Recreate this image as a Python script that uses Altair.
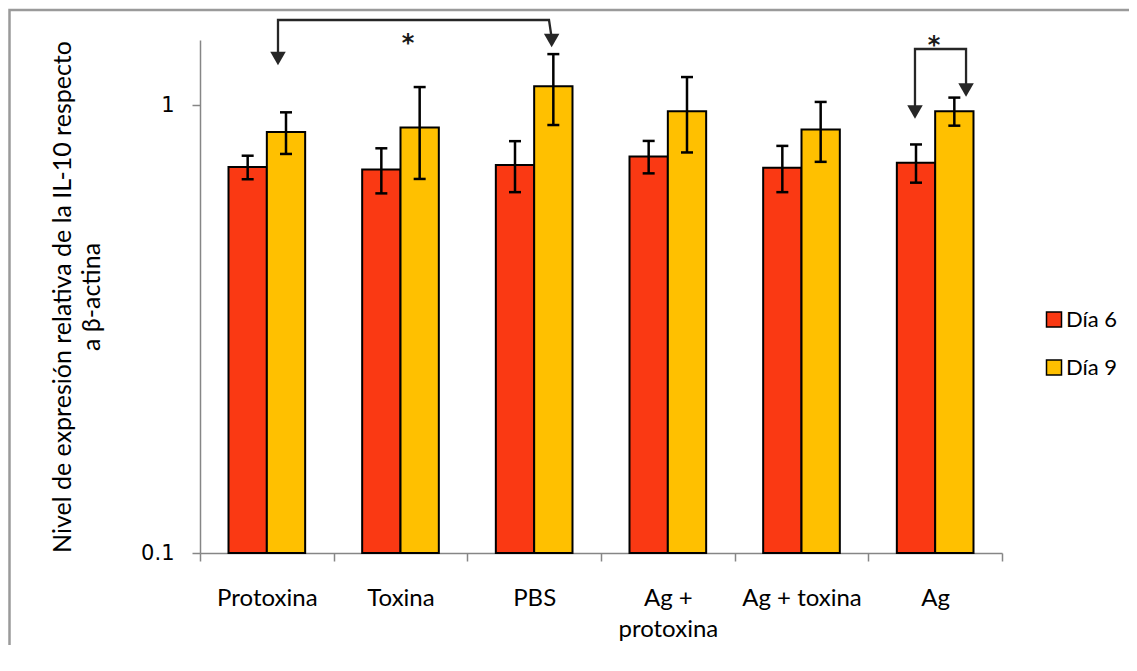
import altair as alt
import pandas as pd

# ---------------- data ----------------
categories = ["Protoxina", "Toxina", "PBS", "Ag + protoxina", "Ag + toxina", "Ag"]
series = ["Día 6", "Día 9"]
dia6 = [0.728, 0.719, 0.736, 0.769, 0.726, 0.745]
dia9 = [0.872, 0.892, 1.103, 0.971, 0.883, 0.971]
err6 = [0.044, 0.083, 0.096, 0.064, 0.086, 0.073]
err9 = [0.093, 0.207, 0.199, 0.186, 0.135, 0.070]
colors = ["#FA3913", "#FFC000"]
axis_floor = 0.1

# significance annotations (x in category units 0..6, y in data units)
bracket_id = ["A", "A", "A", "A", "B", "B", "B", "B"]
bracket_ord = [0, 1, 2, 3, 0, 1, 2, 3]
bracket_u = [0.5835, 0.5835, 2.611, 2.631, 5.349, 5.349, 5.731, 5.731]
bracket_v = [1.296, 1.5516, 1.5516, 1.4145, 0.987, 1.3367, 1.3367, 1.1052]
arrow_u = [0.5835, 2.631, 5.349, 5.731]
arrow_v = [1.273, 1.3964, 0.9668, 1.0826]
star_u = [1.556, 5.491]
star_v = [1.4072, 1.3928]
star_txt = ["*", "*"]

rows = []
for i, c in enumerate(categories):
    for s, vals, errs in ((series[0], dia6, err6), (series[1], dia9, err9)):
        rows.append({"cat": c, "series": s, "value": vals[i], "base": axis_floor,
                     "lo": vals[i] - errs[i], "hi": vals[i] + errs[i]})
df = pd.DataFrame(rows)

br = pd.DataFrame({"g": bracket_id, "o": bracket_ord, "u": bracket_u, "v": bracket_v})
ar = pd.DataFrame({"u": arrow_u, "v": arrow_v})
st = pd.DataFrame({"u": star_u, "v": star_v, "t": star_txt})

W, H = 802, 513
yscale = alt.Scale(type="log", domain=[0.1, 1.4], nice=False)

xaxis = alt.Axis(title=None, tickBand="extent", domainColor="#868686",
                 domainWidth=1.5, tickColor="#868686", tickWidth=1.5,
                 tickSize=8, labelAngle=0, labelFont="Lato",
                 labelFontSize=24, labelColor="black", labelPadding=25,
                 labelLineHeight=31,
                 labelExpr="datum.value == 'Ag + protoxina' ? ['Ag +', 'protoxina'] : datum.value")
xenc = alt.X("cat:N", sort=categories,
             scale=alt.Scale(paddingInner=0, paddingOuter=0), axis=xaxis)
xoff = alt.XOffset("series:N", sort=series,
                   scale=alt.Scale(paddingInner=0, paddingOuter=0.7436))

bars = alt.Chart(df).mark_bar(stroke="black", strokeWidth=2, opacity=1).encode(
    x=xenc,
    xOffset=xoff,
    y=alt.Y("value:Q", scale=yscale,
            axis=alt.Axis(values=[0.1, 1], format="~g", grid=False,
                          domainColor="#868686", domainWidth=1.5,
                          tickColor="#868686", tickWidth=1.5, tickSize=8,
                          labelFont="DejaVu Sans", labelFontSize=21,
                          labelColor="black", labelPadding=18,
                          title=["Nivel de expresión relativa de la IL-10 respecto",
                                 "a β-actina"],
                          titleFont="Lato", titleFontSize=25,
                          titleFontWeight="normal", titleColor="black",
                          titleAngle=270, titleAlign="center",
                          titleBaseline="alphabetic", titleLineHeight=29,
                          titleX=-130, titleY=H / 2)),
    y2="base:Q",
    color=alt.Color("series:N", sort=series,
                    scale=alt.Scale(domain=series, range=colors),
                    legend=alt.Legend(title=None, orient="none", legendX=843,
                                      legendY=268.5, padding=0,
                                      symbolType="square", symbolSize=225,
                                      symbolStrokeColor="black",
                                      symbolStrokeWidth=1.5, symbolOpacity=1,
                                      labelFont="Lato", labelFontSize=22,
                                      labelColor="black", labelOffset=1,
                                      rowPadding=26)),
)

rules = alt.Chart(df).mark_rule(color="black", strokeWidth=2.5).encode(
    x=xenc, xOffset=xoff,
    y=alt.Y("lo:Q", scale=yscale), y2="hi:Q")
cap_lo = alt.Chart(df).mark_tick(color="black", thickness=2.5, size=12,
                                 orient="horizontal", opacity=1).encode(
    x=xenc, xOffset=xoff, y=alt.Y("lo:Q", scale=yscale))
cap_hi = alt.Chart(df).mark_tick(color="black", thickness=2.5, size=12,
                                 orient="horizontal", opacity=1).encode(
    x=xenc, xOffset=xoff, y=alt.Y("hi:Q", scale=yscale))

main = alt.layer(bars, rules, cap_lo, cap_hi)

uscale = alt.Scale(domain=[0, 6], nice=False, zero=False)
lines = alt.Chart(br).mark_line(color="#262626", strokeWidth=2.3).encode(
    x=alt.X("u:Q", scale=uscale, axis=None),
    y=alt.Y("v:Q", scale=yscale),
    detail="g:N", order="o:Q")
heads = alt.Chart(ar).mark_point(shape="triangle-down", filled=True,
                                 color="#262626", size=240, opacity=1).encode(
    x=alt.X("u:Q", scale=uscale, axis=None),
    y=alt.Y("v:Q", scale=yscale))
stars = alt.Chart(st).mark_text(font="DejaVu Sans", fontSize=24, fontWeight="bold",
                                color="#1a1a1a", baseline="alphabetic",
                                align="center", dy=12).encode(
    x=alt.X("u:Q", scale=uscale, axis=None),
    y=alt.Y("v:Q", scale=yscale), text="t:N")
ann = alt.layer(lines, heads, stars)

# outer chart-area border (only its top and left edges fall inside the picture)
frame = alt.Chart(pd.DataFrame({"k": [0]})).mark_rect(
    fill=None, fillOpacity=0, stroke="#9a9a9a", strokeWidth=2.5).encode(
    x=alt.value(-190.5), x2=alt.value(1200), y=alt.value(-30), y2=alt.value(800))

chart = alt.layer(main, ann, frame).resolve_scale(
    x="independent").properties(
    width=W, height=H,
    autosize=alt.AutoSizeParams(type="none"),
    padding={"left": 192, "top": 32, "right": 127, "bottom": 92},
).configure_view(stroke=None)

chart.save("out.html", embed_options={"renderer": "svg", "actions": False})
